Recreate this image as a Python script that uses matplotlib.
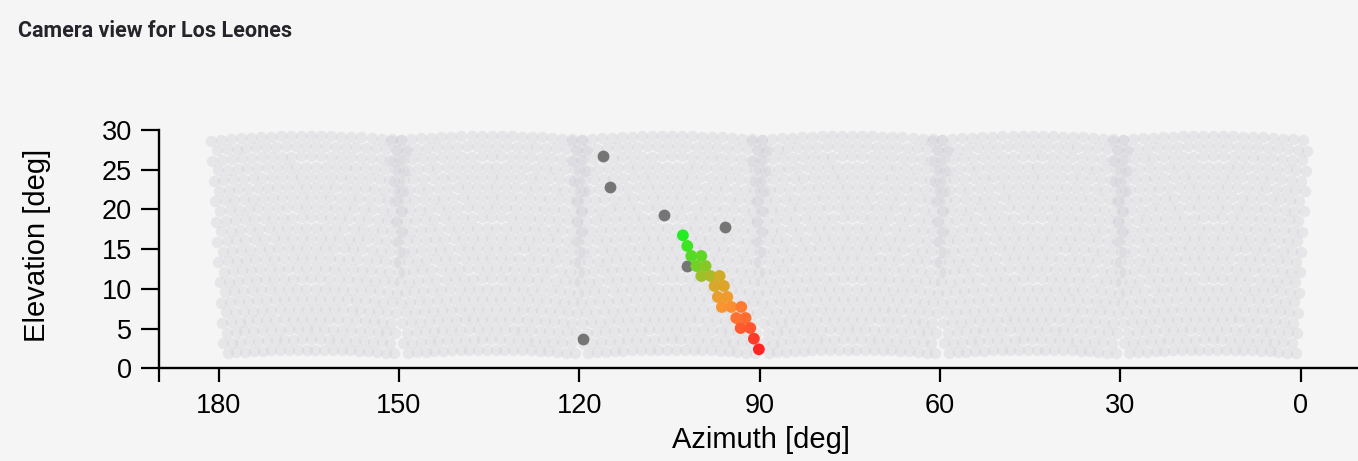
import numpy as np
import matplotlib.pyplot as plt
from matplotlib.colors import LinearSegmentedColormap

# Los Leones eye: six cameras, 22 x 20 hexagonal pixels each
camera_azimuths = [165, 135, 105, 75, 45, 15]
camera_elevation = 15.8
n_rows, n_cols = 22, 20
col_step = 1.5
row_step = 1.28

# pixels on the shower track: azimuth, elevation [deg] and pulse time
track_az = [102.76, 102.03, 101.36, 99.70, 100.53, 98.98, 99.70, 98.15, 96.65,
            97.49, 95.94, 96.94, 95.37, 96.27, 94.71, 93.05, 93.88, 92.33,
            93.16, 91.55, 90.95, 90.12]
track_el = [16.74, 15.40, 14.14, 14.14, 12.88, 12.88, 11.62, 11.62, 11.62,
            10.36, 10.36, 8.98, 8.98, 7.72, 7.72, 7.72, 6.33, 6.33,
            5.07, 5.07, 3.73, 2.39]
track_time = [0.00, 0.07, 0.13, 0.16, 0.21, 0.25, 0.31, 0.35, 0.44,
              0.46, 0.50, 0.57, 0.60, 0.64, 0.67, 0.74, 0.77, 0.79,
              0.84, 0.86, 0.93, 1.00]

# triggered pixels off the track
noise_az = [116.07, 114.95, 105.97, 95.71, 102.14, 119.40]
noise_el = [26.73, 22.86, 19.30, 17.79, 12.88, 3.65]

time_cmap = LinearSegmentedColormap.from_list(
    "timing", [(0.0, "#22ee22"), (0.3, "#99c228"), (0.45, "#d4aa28"),
               (0.65, "#fa9430"), (0.8, "#ff6a30"), (1.0, "#ff2424")])


def camera_pixels(az0):
    # pixel directions in the camera frame, tilted up to the camera elevation
    e0 = np.radians(camera_elevation)
    az, el = [], []
    for i in range(n_rows):
        v = np.radians((i - (n_rows - 1) / 2) * row_step)
        shift = 0.25 if i % 2 else -0.25
        for j in range(n_cols):
            u = np.radians((j - (n_cols - 1) / 2 + shift) * col_step)
            up = np.sin(v) * np.cos(e0) + np.cos(v) * np.cos(u) * np.sin(e0)
            fwd = np.cos(v) * np.cos(u) * np.cos(e0) - np.sin(v) * np.sin(e0)
            side = np.cos(v) * np.sin(u)
            az.append(az0 + np.degrees(np.arctan2(side, fwd)))
            el.append(np.degrees(np.arcsin(up)))
    return az, el


bg = "#f5f5f5"
fig = plt.figure(figsize=(13.58, 4.61), dpi=100, facecolor=bg)
ax = fig.add_axes([158.5 / 1358, 1 - 368.3 / 461, 1202.2 / 1358, 238.3 / 461])
ax.set_facecolor(bg)

for az0 in camera_azimuths:
    paz, pel = camera_pixels(az0)
    ax.scatter(paz, pel, s=68, color="#c6c6d0", alpha=0.3, linewidths=0, zorder=1)

ax.scatter(noise_az, noise_el, s=72, color="#757575", linewidths=0, zorder=3)
ax.scatter(track_az, track_el, s=72, c=track_time, cmap=time_cmap,
           vmin=0, vmax=1, linewidths=0, zorder=3)

ax.set_xlim(190, -10)
ax.set_ylim(0, 30)
ax.set_xticks([180, 150, 120, 90, 60, 30, 0])
ax.set_xticks([190], minor=True)
ax.set_yticks([0, 5, 10, 15, 20, 25, 30])

for side in ["top", "right"]:
    ax.spines[side].set_visible(False)
for side in ["left", "bottom"]:
    ax.spines[side].set_linewidth(1.7)
    ax.spines[side].set_color("black")

ax.tick_params(axis="x", which="both", length=10, width=1.6, pad=8,
               labelsize=19.5)
ax.tick_params(axis="y", length=13, width=1.6, pad=6, labelsize=19.5)
for lab in ax.get_xticklabels() + ax.get_yticklabels():
    lab.set_fontfamily("Liberation Sans")

ax.set_xlabel("Azimuth [deg]", fontsize=21, family="Liberation Sans", va="center")
ax.set_ylabel("Elevation [deg]", fontsize=21, family="Liberation Sans", va="center")
ax.xaxis.set_label_coords(0.501, -0.301)
ax.yaxis.set_label_coords(-0.101, 0.517)

fig.text(18 / 1358, 1 - 31 / 461, "Camera view for Los Leones", fontsize=15.5,
         fontweight="bold", family="Roboto", color="#24242a", va="center")

fig.savefig("out.png", dpi=100, facecolor=bg)
